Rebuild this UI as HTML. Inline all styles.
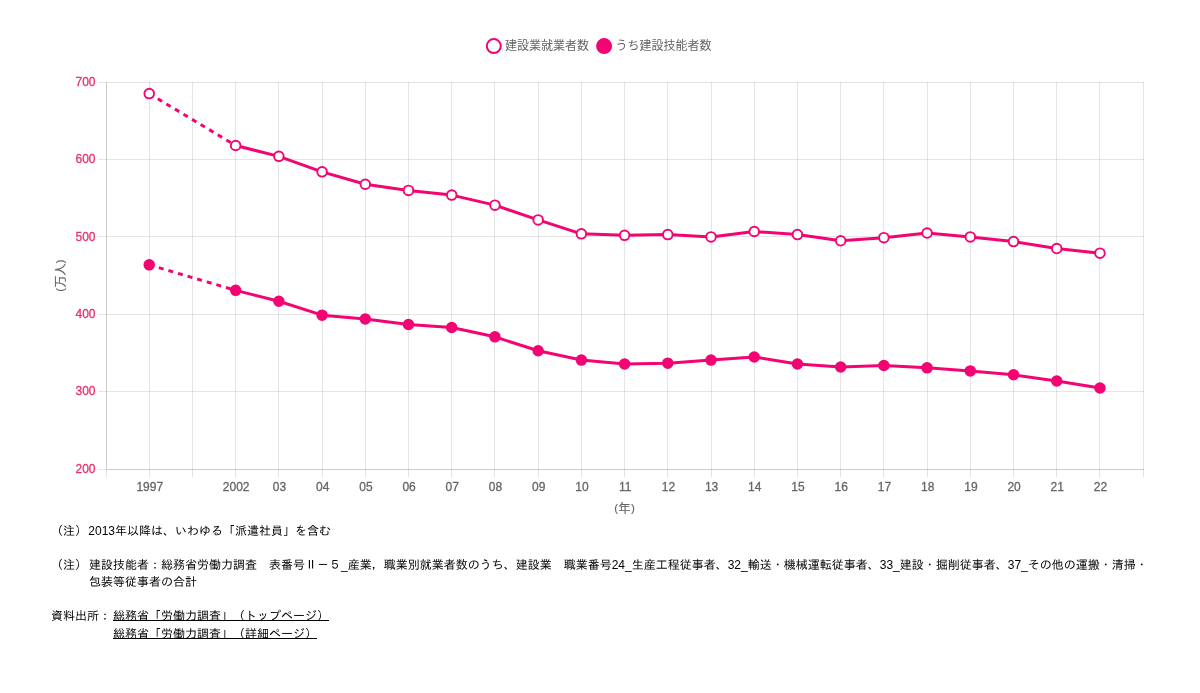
<!DOCTYPE html>
<html lang="ja">
<head>
<meta charset="utf-8">
<title>建設業就業者数</title>
<style>
html,body{margin:0;padding:0;background:#fff;}
body{width:1200px;height:693px;position:relative;overflow:hidden;font-family:"Liberation Sans","IPAGothic","Noto Sans CJK JP",sans-serif;}
.notes{position:absolute;left:0;top:0;width:1200px;font-family:"Liberation Sans","IPAGothic","Noto Sans CJK JP",sans-serif;font-size:12px;line-height:17px;color:#000;}
.notes p{position:absolute;left:51px;width:1101px;margin:0;padding-left:38px;text-indent:-38px;box-sizing:border-box;}
.notes p b{display:inline-block;width:38px;text-indent:0;font-weight:normal;}
.notes .p1{top:522.5px;}
.notes .p1 b{width:37.3px;}
.notes .p2{top:556.5px;}
.notes dl{position:absolute;left:51px;top:607px;margin:0;display:flex;line-height:18px;}
.notes dt{width:62px;flex:none;}
.notes dd{margin:0;}
.notes a{color:#000;text-decoration:underline;text-underline-offset:0px;text-decoration-thickness:1px;display:block;}
</style>
</head>
<body>
<svg width="1200" height="520" viewBox="0 0 1200 520" style="position:absolute;left:0;top:0">
<g stroke-width="1" shape-rendering="crispEdges"><line x1="106.5" y1="82.0" x2="106.5" y2="477.0" stroke="rgba(0,0,0,0.1)"/><line x1="149.5" y1="82.0" x2="149.5" y2="477.0" stroke="rgba(0,0,0,0.1)"/><line x1="192.5" y1="82.0" x2="192.5" y2="477.0" stroke="rgba(0,0,0,0.1)"/><line x1="235.5" y1="82.0" x2="235.5" y2="477.0" stroke="rgba(0,0,0,0.1)"/><line x1="278.5" y1="82.0" x2="278.5" y2="477.0" stroke="rgba(0,0,0,0.1)"/><line x1="322.5" y1="82.0" x2="322.5" y2="477.0" stroke="rgba(0,0,0,0.1)"/><line x1="365.5" y1="82.0" x2="365.5" y2="477.0" stroke="rgba(0,0,0,0.1)"/><line x1="408.5" y1="82.0" x2="408.5" y2="477.0" stroke="rgba(0,0,0,0.1)"/><line x1="451.5" y1="82.0" x2="451.5" y2="477.0" stroke="rgba(0,0,0,0.1)"/><line x1="494.5" y1="82.0" x2="494.5" y2="477.0" stroke="rgba(0,0,0,0.1)"/><line x1="538.5" y1="82.0" x2="538.5" y2="477.0" stroke="rgba(0,0,0,0.1)"/><line x1="581.5" y1="82.0" x2="581.5" y2="477.0" stroke="rgba(0,0,0,0.1)"/><line x1="624.5" y1="82.0" x2="624.5" y2="477.0" stroke="rgba(0,0,0,0.1)"/><line x1="667.5" y1="82.0" x2="667.5" y2="477.0" stroke="rgba(0,0,0,0.1)"/><line x1="711.5" y1="82.0" x2="711.5" y2="477.0" stroke="rgba(0,0,0,0.1)"/><line x1="754.5" y1="82.0" x2="754.5" y2="477.0" stroke="rgba(0,0,0,0.1)"/><line x1="797.5" y1="82.0" x2="797.5" y2="477.0" stroke="rgba(0,0,0,0.1)"/><line x1="840.5" y1="82.0" x2="840.5" y2="477.0" stroke="rgba(0,0,0,0.1)"/><line x1="883.5" y1="82.0" x2="883.5" y2="477.0" stroke="rgba(0,0,0,0.1)"/><line x1="927.5" y1="82.0" x2="927.5" y2="477.0" stroke="rgba(0,0,0,0.1)"/><line x1="970.5" y1="82.0" x2="970.5" y2="477.0" stroke="rgba(0,0,0,0.1)"/><line x1="1013.5" y1="82.0" x2="1013.5" y2="477.0" stroke="rgba(0,0,0,0.1)"/><line x1="1056.5" y1="82.0" x2="1056.5" y2="477.0" stroke="rgba(0,0,0,0.1)"/><line x1="1099.5" y1="82.0" x2="1099.5" y2="477.0" stroke="rgba(0,0,0,0.1)"/><line x1="1143.5" y1="82.0" x2="1143.5" y2="477.0" stroke="rgba(0,0,0,0.1)"/><line x1="98.0" y1="82.5" x2="1143.9" y2="82.5" stroke="rgba(0,0,0,0.1)"/><line x1="98.0" y1="159.5" x2="1143.9" y2="159.5" stroke="rgba(0,0,0,0.1)"/><line x1="98.0" y1="236.5" x2="1143.9" y2="236.5" stroke="rgba(0,0,0,0.1)"/><line x1="98.0" y1="314.5" x2="1143.9" y2="314.5" stroke="rgba(0,0,0,0.1)"/><line x1="98.0" y1="391.5" x2="1143.9" y2="391.5" stroke="rgba(0,0,0,0.1)"/><line x1="98.0" y1="469.5" x2="1143.9" y2="469.5" stroke="rgba(0,0,0,0.1)"/><line x1="106.5" y1="82.0" x2="106.5" y2="469" stroke="rgba(0,0,0,0.1)"/><line x1="107" y1="469.5" x2="1143.9" y2="469.5" stroke="rgba(0,0,0,0.1)"/></g>
<g font-family="'Liberation Sans', sans-serif" font-size="12" fill="#e8306f" stroke="#e8306f" stroke-width="0.3"><text x="95.5" y="85.6" text-anchor="end">700</text><text x="95.5" y="163.1" text-anchor="end">600</text><text x="95.5" y="240.5" text-anchor="end">500</text><text x="95.5" y="318.0" text-anchor="end">400</text><text x="95.5" y="395.4" text-anchor="end">300</text><text x="95.5" y="472.9" text-anchor="end">200</text></g>
<g font-family="'Liberation Sans', sans-serif" font-size="12" fill="#666" stroke="#666" stroke-width="0.3"><text x="149.8" y="491" text-anchor="middle">1997</text><text x="236.2" y="491" text-anchor="middle">2002</text><text x="279.5" y="491" text-anchor="middle">03</text><text x="322.7" y="491" text-anchor="middle">04</text><text x="365.9" y="491" text-anchor="middle">05</text><text x="409.1" y="491" text-anchor="middle">06</text><text x="452.3" y="491" text-anchor="middle">07</text><text x="495.5" y="491" text-anchor="middle">08</text><text x="538.8" y="491" text-anchor="middle">09</text><text x="582.0" y="491" text-anchor="middle">10</text><text x="625.2" y="491" text-anchor="middle">11</text><text x="668.4" y="491" text-anchor="middle">12</text><text x="711.6" y="491" text-anchor="middle">13</text><text x="754.8" y="491" text-anchor="middle">14</text><text x="798.0" y="491" text-anchor="middle">15</text><text x="841.3" y="491" text-anchor="middle">16</text><text x="884.5" y="491" text-anchor="middle">17</text><text x="927.7" y="491" text-anchor="middle">18</text><text x="970.9" y="491" text-anchor="middle">19</text><text x="1014.1" y="491" text-anchor="middle">20</text><text x="1057.3" y="491" text-anchor="middle">21</text><text x="1100.5" y="491" text-anchor="middle">22</text></g>
<text x="624.6" y="512.7" text-anchor="middle" font-family="'Liberation Sans', 'Noto Sans CJK JP', sans-serif" font-size="12" fill="#666" stroke="#666" stroke-width="0.15"><tspan font-size="11.5" dy="-0.7">(</tspan><tspan dy="0.7" dx="0.4">年</tspan><tspan font-size="11.5" dy="-0.7" dx="0.4">)</tspan></text>
<text transform="translate(64.5 275.6) rotate(-90)" text-anchor="middle" font-family="'Liberation Sans', 'Noto Sans CJK JP', sans-serif" font-size="12" fill="#666" stroke="#666" stroke-width="0.15"><tspan font-size="11.5" dy="-0.7">(</tspan><tspan dy="0.7" dx="0.4">万人</tspan><tspan font-size="11.5" dy="-0.7" dx="0.4">)</tspan></text>
<line x1="149.22" y1="93.62" x2="235.65" y2="145.52" stroke="#f20572" stroke-width="3" stroke-dasharray="5 5"/><polyline fill="none" stroke="#f20572" stroke-width="3" stroke-linejoin="round" points="235.65,145.52 278.86,156.36 322.08,171.85 365.29,184.25 408.50,190.44 451.72,195.09 494.94,205.16 538.15,219.88 581.37,233.82 624.58,235.37 667.80,234.60 711.01,236.92 754.23,231.50 797.44,234.60 840.66,240.79 883.87,237.69 927.09,233.05 970.30,236.92 1013.52,241.57 1056.73,248.54 1099.95,253.19"/><circle cx="149.22" cy="93.62" r="4.8" fill="#fff" stroke="#f20572" stroke-width="1.9"/><circle cx="235.65" cy="145.52" r="4.8" fill="#fff" stroke="#f20572" stroke-width="1.9"/><circle cx="278.86" cy="156.36" r="4.8" fill="#fff" stroke="#f20572" stroke-width="1.9"/><circle cx="322.08" cy="171.85" r="4.8" fill="#fff" stroke="#f20572" stroke-width="1.9"/><circle cx="365.29" cy="184.25" r="4.8" fill="#fff" stroke="#f20572" stroke-width="1.9"/><circle cx="408.50" cy="190.44" r="4.8" fill="#fff" stroke="#f20572" stroke-width="1.9"/><circle cx="451.72" cy="195.09" r="4.8" fill="#fff" stroke="#f20572" stroke-width="1.9"/><circle cx="494.94" cy="205.16" r="4.8" fill="#fff" stroke="#f20572" stroke-width="1.9"/><circle cx="538.15" cy="219.88" r="4.8" fill="#fff" stroke="#f20572" stroke-width="1.9"/><circle cx="581.37" cy="233.82" r="4.8" fill="#fff" stroke="#f20572" stroke-width="1.9"/><circle cx="624.58" cy="235.37" r="4.8" fill="#fff" stroke="#f20572" stroke-width="1.9"/><circle cx="667.80" cy="234.60" r="4.8" fill="#fff" stroke="#f20572" stroke-width="1.9"/><circle cx="711.01" cy="236.92" r="4.8" fill="#fff" stroke="#f20572" stroke-width="1.9"/><circle cx="754.23" cy="231.50" r="4.8" fill="#fff" stroke="#f20572" stroke-width="1.9"/><circle cx="797.44" cy="234.60" r="4.8" fill="#fff" stroke="#f20572" stroke-width="1.9"/><circle cx="840.66" cy="240.79" r="4.8" fill="#fff" stroke="#f20572" stroke-width="1.9"/><circle cx="883.87" cy="237.69" r="4.8" fill="#fff" stroke="#f20572" stroke-width="1.9"/><circle cx="927.09" cy="233.05" r="4.8" fill="#fff" stroke="#f20572" stroke-width="1.9"/><circle cx="970.30" cy="236.92" r="4.8" fill="#fff" stroke="#f20572" stroke-width="1.9"/><circle cx="1013.52" cy="241.57" r="4.8" fill="#fff" stroke="#f20572" stroke-width="1.9"/><circle cx="1056.73" cy="248.54" r="4.8" fill="#fff" stroke="#f20572" stroke-width="1.9"/><circle cx="1099.95" cy="253.19" r="4.8" fill="#fff" stroke="#f20572" stroke-width="1.9"/>
<line x1="149.22" y1="264.81" x2="235.65" y2="290.37" stroke="#f20572" stroke-width="3" stroke-dasharray="5 5"/><polyline fill="none" stroke="#f20572" stroke-width="3" stroke-linejoin="round" points="235.65,290.37 278.86,301.21 322.08,315.15 365.29,319.03 408.50,324.45 451.72,327.55 494.94,336.84 538.15,350.79 581.37,360.08 624.58,363.95 667.80,363.18 711.01,360.08 754.23,356.98 797.44,363.95 840.66,367.05 883.87,365.50 927.09,367.83 970.30,370.93 1013.52,374.80 1056.73,381.00 1099.95,387.97"/><circle cx="149.22" cy="264.81" r="4.8" fill="#f20572" stroke="#f20572" stroke-width="1.9"/><circle cx="235.65" cy="290.37" r="4.8" fill="#f20572" stroke="#f20572" stroke-width="1.9"/><circle cx="278.86" cy="301.21" r="4.8" fill="#f20572" stroke="#f20572" stroke-width="1.9"/><circle cx="322.08" cy="315.15" r="4.8" fill="#f20572" stroke="#f20572" stroke-width="1.9"/><circle cx="365.29" cy="319.03" r="4.8" fill="#f20572" stroke="#f20572" stroke-width="1.9"/><circle cx="408.50" cy="324.45" r="4.8" fill="#f20572" stroke="#f20572" stroke-width="1.9"/><circle cx="451.72" cy="327.55" r="4.8" fill="#f20572" stroke="#f20572" stroke-width="1.9"/><circle cx="494.94" cy="336.84" r="4.8" fill="#f20572" stroke="#f20572" stroke-width="1.9"/><circle cx="538.15" cy="350.79" r="4.8" fill="#f20572" stroke="#f20572" stroke-width="1.9"/><circle cx="581.37" cy="360.08" r="4.8" fill="#f20572" stroke="#f20572" stroke-width="1.9"/><circle cx="624.58" cy="363.95" r="4.8" fill="#f20572" stroke="#f20572" stroke-width="1.9"/><circle cx="667.80" cy="363.18" r="4.8" fill="#f20572" stroke="#f20572" stroke-width="1.9"/><circle cx="711.01" cy="360.08" r="4.8" fill="#f20572" stroke="#f20572" stroke-width="1.9"/><circle cx="754.23" cy="356.98" r="4.8" fill="#f20572" stroke="#f20572" stroke-width="1.9"/><circle cx="797.44" cy="363.95" r="4.8" fill="#f20572" stroke="#f20572" stroke-width="1.9"/><circle cx="840.66" cy="367.05" r="4.8" fill="#f20572" stroke="#f20572" stroke-width="1.9"/><circle cx="883.87" cy="365.50" r="4.8" fill="#f20572" stroke="#f20572" stroke-width="1.9"/><circle cx="927.09" cy="367.83" r="4.8" fill="#f20572" stroke="#f20572" stroke-width="1.9"/><circle cx="970.30" cy="370.93" r="4.8" fill="#f20572" stroke="#f20572" stroke-width="1.9"/><circle cx="1013.52" cy="374.80" r="4.8" fill="#f20572" stroke="#f20572" stroke-width="1.9"/><circle cx="1056.73" cy="381.00" r="4.8" fill="#f20572" stroke="#f20572" stroke-width="1.9"/><circle cx="1099.95" cy="387.97" r="4.8" fill="#f20572" stroke="#f20572" stroke-width="1.9"/>
<circle cx="493.8" cy="46.1" r="7" fill="#fff" stroke="#f20572" stroke-width="2"/>
<circle cx="604.1" cy="46.1" r="7" fill="#f20572" stroke="#f20572" stroke-width="2"/>
<g font-family="'Liberation Sans', 'Noto Sans CJK JP', sans-serif" font-size="12" fill="#666"><text x="505" y="50.3">建設業就業者数</text><text x="615.5" y="50.3">うち建設技能者数</text></g>
</svg>
<div class="notes">
<p class="p1"><b>（注）</b>2013年以降は、いわゆる「派遣社員」を含む</p>
<p class="p2"><b>（注）</b>建設技能者：総務省労働力調査　表番号Ⅱ－５_産業，職業別就業者数のうち、建設業　職業番号24_生産工程従事者、32_輸送・機械運転従事者、33_建設・掘削従事者、37_その他の運搬・清掃・包装等従事者の合計</p>
<dl><dt>資料出所：</dt><dd><a>総務省「労働力調査」（トップページ）</a><a>総務省「労働力調査」（詳細ページ）</a></dd></dl>
</div>
</body>
</html>
